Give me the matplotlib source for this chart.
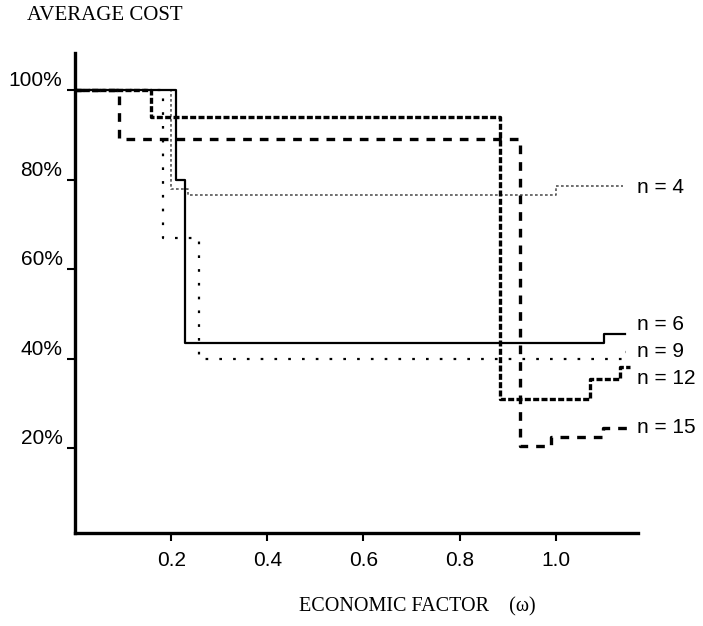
import matplotlib
matplotlib.use("Agg")
import matplotlib.pyplot as plt

# step curves of average cost vs economic factor, one per n
x_n4 = [0, 0.20, 0.235, 1.00, 1.14]
y_n4 = [100, 78, 76.5, 78.5, 78.5]

x_n6 = [0, 0.21, 0.228, 1.10, 1.145]
y_n6 = [100, 80, 43.5, 45.5, 45.5]

x_n9 = [0, 0.183, 0.258, 1.137, 1.147]
y_n9 = [100, 67, 40, 41.5, 41.5]

x_n12 = [0, 0.158, 0.885, 1.071, 1.133, 1.155]
y_n12 = [100, 94, 31, 35.5, 38, 38]

x_n15 = [0, 0.092, 0.925, 0.99, 1.098, 1.148]
y_n15 = [100, 89, 20.5, 22.5, 24.5, 24.5]

curve_labels = ["n = 4", "n = 6", "n = 9", "n = 12", "n = 15"]
label_y = [78.3, 47.5, 41.5, 35.6, 24.5]

x_ticks = [0.2, 0.4, 0.6, 0.8, 1.0]
x_tick_labels = ["0.2", "0.4", "0.6", "0.8", "1.0"]
y_ticks = [20, 40, 60, 80, 100]
y_tick_labels = ["20%", "40%", "60%", "80%", "100%"]

SANS = "Liberation Sans"
SERIF = "Liberation Serif"

fig = plt.figure(figsize=(7.03, 6.26), dpi=100)
ax = fig.add_axes([0.1067, 0.1486, 0.8008, 0.7667])

ax.plot(x_n4, y_n4, drawstyle="steps-post", color="#555555", lw=1.2,
        linestyle=(0, (1.6, 1.4)))
ax.plot(x_n6, y_n6, drawstyle="steps-post", color="black", lw=1.6)
ax.plot(x_n9, y_n9, drawstyle="steps-post", color="black", lw=1.6,
        linestyle=(0, (1.2, 5)))
ax.plot(x_n12, y_n12, drawstyle="steps-post", color="black", lw=2.4,
        linestyle=(0, (1.8, 0.7)))
ax.plot(x_n15, y_n15, drawstyle="steps-post", color="black", lw=2.4,
        linestyle=(0, (2.6, 2.4)))

for lab, ly in zip(curve_labels, label_y):
    ax.text(1.169, ly, lab, fontsize=15, family=SANS, va="center", ha="left",
            clip_on=False)

ax.set_xlim(0, 1.171)
ax.set_ylim(1, 108.3)

ax.set_xticks(x_ticks)
ax.set_xticklabels(x_tick_labels, family=SANS, fontsize=15)
ax.set_yticks(y_ticks)
ax.set_yticklabels(y_tick_labels, family=SANS, fontsize=15)
for lab in ax.get_yticklabels():
    lab.set_va("bottom")

ax.tick_params(axis="both", direction="out", length=6, width=1.5, color="black")
ax.tick_params(axis="x", pad=7)
ax.tick_params(axis="y", pad=3)

for side in ["top", "right"]:
    ax.spines[side].set_visible(False)
for side in ["left", "bottom"]:
    ax.spines[side].set_linewidth(2.4)

fig.text(0.038, 0.976, "AVERAGE COST", family=SERIF, fontsize=15,
         va="center", ha="left")
fig.text(0.425, 0.030, "ECONOMIC FACTOR    (\u03c9)", family=SERIF, fontsize=14.5,
         va="center", ha="left")

fig.savefig("out.png", dpi=100)
